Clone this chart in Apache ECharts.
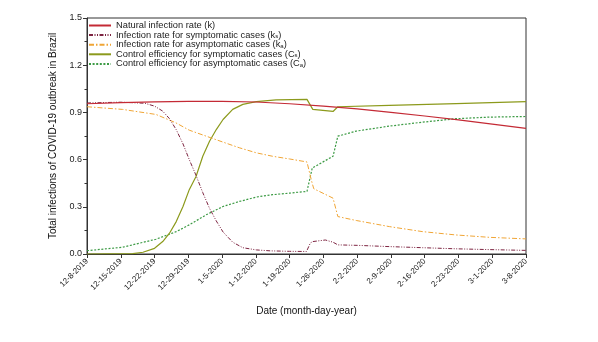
<!DOCTYPE html>
<html><head><meta charset="utf-8">
<script src="https://cdn.jsdelivr.net/npm/echarts@6/dist/echarts.min.js"></script>
<style>html,body{margin:0;padding:0;background:#fff}#c{width:598px;height:342px}</style>
</head><body><div id="c"></div>
<script>
// x values are day offsets from 12-8-2019
var tickLabels = ['12-8-2019','12-15-2019','12-22-2019','12-29-2019','1-5-2020','1-12-2020','1-19-2020','1-26-2020','2-2-2020','2-9-2020','2-16-2020','2-23-2020','3-1-2020','3-8-2020'];
var seriesNames = ['Natural infection rate (k)','Infection rate for symptomatic cases (ks)','Infection rate for asymptomatic cases (ka)','Control efficiency for symptomatic cases (Cs)','Control efficiency for asymptomatic cases (Ca)'];

var kDays = [0,7,14,21,28,35,42,49,56,63,70,77,84,91];
var kVals = [0.955,0.962,0.967,0.970,0.970,0.966,0.955,0.940,0.922,0.900,0.877,0.852,0.826,0.798];

var ksDays = [0,7,12,14,15.7,17.1,18.5,19.9,21.2,22.6,24.0,25.4,26.8,28.2,30.2,32.3,35.1,38,42,45.5,46.3,46.8,49.4,51.0,52.0,56,62.7,69.6,76.5,83.4,91];
var ksVals = [0.960,0.965,0.958,0.940,0.908,0.860,0.790,0.700,0.600,0.500,0.390,0.290,0.210,0.140,0.075,0.040,0.026,0.020,0.017,0.016,0.070,0.079,0.089,0.075,0.058,0.055,0.047,0.040,0.033,0.028,0.023];

var kaDays = [0,7.4,14.3,18.4,21.2,24.7,28.2,31.6,35.1,38.5,42,45.6,46.5,47,51,52,55.8,62.7,69.6,76.5,83.4,91];
var kaVals = [0.936,0.919,0.887,0.834,0.787,0.749,0.711,0.675,0.643,0.621,0.604,0.585,0.470,0.415,0.355,0.238,0.213,0.174,0.142,0.121,0.106,0.096];

var csDays = [0,9.5,11.6,14.0,15.7,17.1,18.5,19.9,21.2,22.6,24.0,25.4,26.8,28.2,30.2,32.3,35.1,39.2,45.6,46.8,51.0,52.0,62.7,76.5,91];
var csVals = [0,0.002,0.011,0.036,0.079,0.132,0.206,0.302,0.409,0.493,0.621,0.717,0.791,0.855,0.919,0.951,0.968,0.979,0.983,0.919,0.906,0.936,0.945,0.956,0.968];

var caDays = [0,7.4,14.3,18.5,21.2,24.7,28.2,31.6,35.1,38.5,42,45.6,46.7,51.0,52.0,55.8,62.7,69.6,76.5,83.4,91];
var caVals = [0.021,0.043,0.094,0.142,0.185,0.249,0.302,0.334,0.362,0.377,0.387,0.398,0.547,0.621,0.749,0.781,0.813,0.838,0.860,0.870,0.874];

function pairs(d, v){ return d.map(function(x,i){ return [x, v[i]]; }); }

var chart = echarts.init(document.getElementById('c'), null, {renderer:'canvas'});
var font = 'Liberation Sans, Arial, sans-serif';
var legendRich = {
  'Natural infection rate (k)': 'Natural infection rate (k)',
  'Infection rate for symptomatic cases (ks)': 'Infection rate for symptomatic cases (k{sub|s})',
  'Infection rate for asymptomatic cases (ka)': 'Infection rate for asymptomatic cases (k{sub|a})',
  'Control efficiency for symptomatic cases (Cs)': 'Control efficiency for symptomatic cases (C{sub|s})',
  'Control efficiency for asymptomatic cases (Ca)': 'Control efficiency for asymptomatic cases (C{sub|a})'
};
var styles = [
  {color:'#c42a35', type:'solid', width:1.2},
  {color:'#7d2441', type:[4,1.5,1,1.5,1,1.5], width:1},
  {color:'#f0a535', type:[5,2,1.5,2], width:1},
  {color:'#8c9a1c', type:'solid', width:1.2},
  {color:'#3d9b45', type:[2,1.6], width:1.2}
];
var allData = [pairs(kDays,kVals), pairs(ksDays,ksVals), pairs(kaDays,kaVals), pairs(csDays,csVals), pairs(caDays,caVals)];

chart.setOption({
  animation:false,
  textStyle:{fontFamily:font},
  grid:{left:87, right:72, top:18, bottom:88, show:true, borderColor:'#333', borderWidth:1, backgroundColor:'transparent'},
  legend:{
    orient:'vertical', left:88, top:21, itemWidth:22, itemHeight:8, itemGap:0.6,
    padding:0,
    itemStyle:{opacity:0},
    data: seriesNames,
    formatter:function(n){ return legendRich[n]; },
    textStyle:{fontSize:9.3, lineHeight:9, color:'#222', fontFamily:font, rich:{sub:{fontSize:6, lineHeight:9, padding:[3,0,0,0], fontFamily:font, color:'#222'}}}
  },
  xAxis:{
    type:'value', min:0, max:91, interval:7,
    name:'Date (month-day-year)', nameLocation:'middle', nameGap:52,
    nameTextStyle:{fontSize:10, color:'#111', fontFamily:font},
    axisLine:{lineStyle:{color:'#333'}},
    axisTick:{inside:false, length:4, lineStyle:{color:'#333'}},
    splitLine:{show:false},
    axisLabel:{rotate:45, fontSize:8, color:'#222', margin:6, formatter:function(v){ return tickLabels[Math.round(v/7)] || ''; }}
  },
  yAxis:{
    type:'value', min:0, max:1.5, interval:0.3,
    name:'Total infections of COVID-19 outbreak in Brazil', nameLocation:'middle', nameGap:29,
    nameTextStyle:{fontSize:10, color:'#111', fontFamily:font},
    axisLine:{show:true, lineStyle:{color:'#333'}},
    axisTick:{show:true, inside:false, length:4, lineStyle:{color:'#333'}},
    minorTick:{show:true, splitNumber:2, length:2.5, lineStyle:{color:'#333'}},
    splitLine:{show:false},
    axisLabel:{fontSize:9, color:'#222', margin:5, formatter:function(v){ return v.toFixed(1); }}
  },
  series: seriesNames.map(function(n,i){
    return {name:n, type:'line', data:allData[i], symbol:'none', showSymbol:false, smooth:false,
      lineStyle:styles[i], itemStyle:{color:styles[i].color}, z: 5-i};
  })
});
</script></body></html>
